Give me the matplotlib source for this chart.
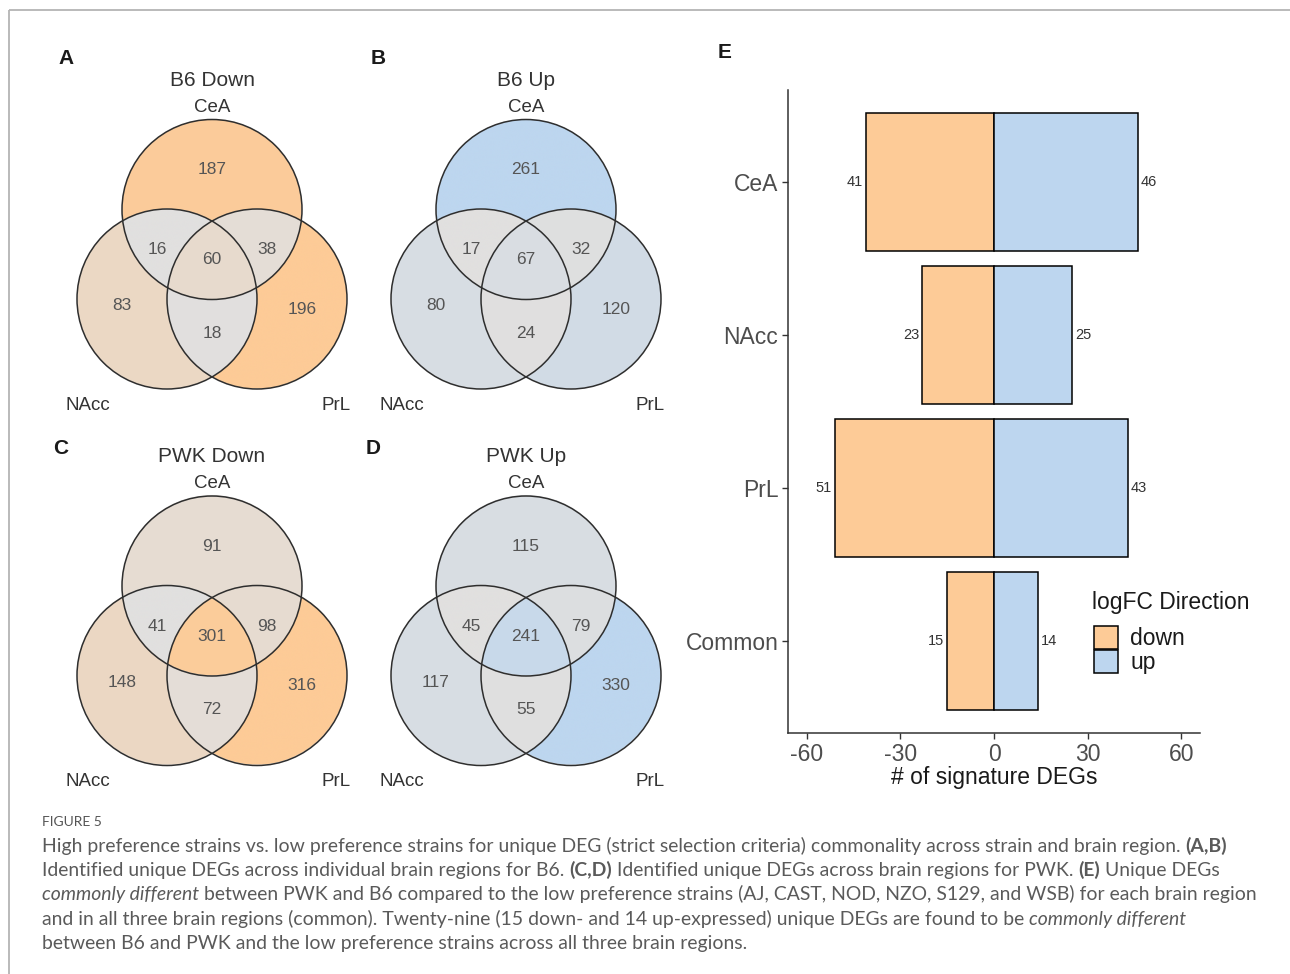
import numpy as np
import matplotlib
matplotlib.use('Agg')
import matplotlib.pyplot as plt
from matplotlib.colors import LinearSegmentedColormap, Normalize
from matplotlib.patches import Circle, Patch

# Venn region counts, order: CeA only, NAcc only, PrL only,
# CeA&NAcc, CeA&PrL, NAcc&PrL, all three
b6_down = [187, 83, 196, 16, 38, 18, 60]
b6_up = [261, 80, 120, 17, 32, 24, 67]
pwk_down = [91, 148, 316, 41, 98, 72, 301]
pwk_up = [115, 117, 330, 45, 79, 55, 241]
venn_titles = ['B6 Down', 'B6 Up', 'PWK Down', 'PWK Up']
venn_letters = ['A', 'B', 'C', 'D']
brain_regions = ['CeA', 'NAcc', 'PrL']

# signature DEG counts per region (panel E)
bar_regions = ['CeA', 'NAcc', 'PrL', 'Common']
deg_down = [41, 23, 51, 15]
deg_up = [46, 25, 43, 14]
directions = ['down', 'up']

ORANGE = '#FDCB97'
BLUE = '#BDD6EF'
LOW = '#E1E0DF'
SANS = ['Liberation Sans', 'DejaVu Sans']

plt.rcParams['font.family'] = SANS
plt.rcParams['axes.unicode_minus'] = False

fig = plt.figure(figsize=(12.9, 9.74), dpi=100)
bg = fig.add_axes([0, 0, 1, 1])
bg.set_xlim(0, 1290)
bg.set_ylim(974, 0)
bg.axis('off')

# page frame
bg.plot([9, 1290], [10, 10], color='#b4b4b4', lw=1.3, solid_capstyle='butt')
bg.plot([9, 9], [10, 974], color='#b4b4b4', lw=1.3, solid_capstyle='butt')

R = 90.0
DX, DY = 45.0, 89.5
# where each count sits relative to the CeA circle centre
num_offsets = [(0, -39.5), (-90, 96.5), (90, 99.5), (-55, 40.5),
               (55, 40.5), (0, 123.5), (0, 50.5)]
code_to_region = {1: 0, 2: 1, 4: 2, 3: 3, 5: 4, 6: 5, 7: 6}


def venn(cx, cy, counts, high, title, letter, letter_xy):
    centres = [(cx, cy), (cx - DX, cy + DY), (cx + DX, cy + DY)]
    cmap = LinearSegmentedColormap.from_list('fill', [LOW, high])
    norm = Normalize(min(counts), max(counts))

    x0, x1 = cx - DX - R - 2, cx + DX + R + 2
    y0, y1 = cy - R - 2, cy + DY + R + 2
    xs = np.linspace(x0, x1, 1100)
    ys = np.linspace(y0, y1, 1100)
    gx, gy = np.meshgrid(xs, ys)
    code = np.zeros(gx.shape, dtype=int)
    for k, (px, py) in enumerate(centres):
        code += ((gx - px) ** 2 + (gy - py) ** 2 <= R ** 2) * (1 << k)
    value = np.zeros(gx.shape)
    for c, idx in code_to_region.items():
        value[code == c] = counts[idx]
    rgba = cmap(norm(value))
    rgba[code == 0, 3] = 0
    bg.imshow(rgba, extent=(x0, x1, y1, y0), origin='upper',
              interpolation='antialiased', aspect='auto', zorder=1)

    for px, py in centres:
        bg.add_patch(Circle((px, py), R, fill=False, ec='#2e2e2e',
                            lw=1.1, zorder=3))

    for n, (ox, oy) in zip(counts, num_offsets):
        bg.text(cx + ox, cy + oy, str(n), ha='center', va='center',
                fontsize=12.5, color='#555555', zorder=4)

    bg.text(cx, cy - 129, title, ha='center', va='center',
            fontsize=15, color='#333333')
    bg.text(cx, cy - 102, brain_regions[0], ha='center', va='center',
            fontsize=13.5, color='#333333')
    bg.text(cx - 124, cy + 196, brain_regions[1], ha='center', va='center',
            fontsize=13.5, color='#333333')
    bg.text(cx + 124, cy + 196, brain_regions[2], ha='center', va='center',
            fontsize=13.5, color='#333333')
    bg.text(letter_xy[0], letter_xy[1], letter, ha='center', va='center',
            fontsize=15, fontweight='bold', color='#1a1a1a')


venn_sets = [b6_down, b6_up, pwk_down, pwk_up]
venn_high = [ORANGE, BLUE, ORANGE, BLUE]
venn_centres = [(212, 209.5), (526, 209.5), (212, 586), (526, 586)]
letter_pos = [(66, 59), (378, 59), (61, 448), (373, 448)]
for counts, high, title, letter, (cx, cy), lxy in zip(
        venn_sets, venn_high, venn_titles, venn_letters, venn_centres, letter_pos):
    venn(cx, cy, counts, high, title, letter, lxy)

# panel E: diverging horizontal bars
bg.text(725, 53, 'E', ha='center', va='center', fontsize=15,
        fontweight='bold', color='#1a1a1a')

ax = fig.add_axes([788 / 1290, 1 - 733 / 974, 412 / 1290, 643 / 974])
ax.set_facecolor('none')
ypos = np.arange(len(bar_regions))[::-1] + 1
down_bars = ax.barh(ypos, -np.array(deg_down), height=0.9, color=ORANGE,
                    edgecolor='black', linewidth=1.1, label=directions[0])
up_bars = ax.barh(ypos, deg_up, height=0.9, color=BLUE,
                  edgecolor='black', linewidth=1.1, label=directions[1])
ax.bar_label(down_bars, labels=[str(v) for v in deg_down], padding=2,
             fontsize=10.5, color='#333333')
ax.bar_label(up_bars, labels=[str(v) for v in deg_up], padding=2,
             fontsize=10.5, color='#333333')

ax.set_xlim(-66, 66)
ax.set_ylim(0.4, len(bar_regions) + 0.6)
ax.set_xticks([-60, -30, 0, 30, 60])
ax.set_yticks(ypos)
ax.set_yticklabels(bar_regions)
for side in ['top', 'right']:
    ax.spines[side].set_visible(False)
for side in ['left', 'bottom']:
    ax.spines[side].set_color('#333333')
    ax.spines[side].set_linewidth(1.1)
ax.tick_params(length=4, width=1.0, color='#333333', labelcolor='#4d4d4d',
               labelsize=16.5, pad=3)
ax.set_xlabel('# of signature DEGs', fontsize=16.5, color='#1a1a1a', labelpad=0)

# legend: title drawn on its own so the key boxes can sit flush
fig.text(1092 / 1290, 1 - 603 / 974, 'logFC Direction', ha='left', va='center',
         fontsize=16.5, color='#1a1a1a')
handles = [Patch(facecolor=ORANGE, edgecolor='black', lw=1.1, label=directions[0]),
           Patch(facecolor=BLUE, edgecolor='black', lw=1.1, label=directions[1])]
leg = ax.legend(handles=handles, loc='upper left',
                bbox_to_anchor=(1094 / 1290, 1 - 626 / 974),
                bbox_transform=fig.transFigure, frameon=False,
                fontsize=16.5, handlelength=1.03, handleheight=1.14,
                labelspacing=0.0, handletextpad=0.55,
                borderpad=0, borderaxespad=0)
for t in leg.get_texts():
    t.set_color('#1a1a1a')

# caption
CAP = ['Lato', 'DejaVu Sans']
bg.text(42, 826, 'FIGURE 5', fontsize=10, family=CAP, color='#555555',
        va='baseline')

caption = [
    [('High preference strains vs. low preference strains for unique DEG (strict '
      'selection criteria) commonality across strain and brain region.', 'n'),
     ('(A,B)', 'b')],
    [('Identified unique DEGs across individual brain regions for B6.', 'n'),
     ('(C,D)', 'b'),
     ('Identified unique DEGs across brain regions for PWK.', 'n'),
     ('(E)', 'b'), ('Unique DEGs', 'n')],
    [('commonly different', 'i'),
     ('between PWK and B6 compared to the low preference strains (AJ, CAST, '
      'NOD, NZO, S129, and WSB) for each brain region', 'n')],
    [('and in all three brain regions (common). Twenty-nine (15 down- and 14 '
      'up-expressed) unique DEGs are found to be', 'n'),
     ('commonly different', 'i')],
    [('between B6 and PWK and the low preference strains across all three '
      'brain regions.', 'n')],
]

renderer = fig.canvas.get_renderer()
cap_size = 13.95


def text_width(s, **kw):
    t = bg.text(0, 0, s, fontsize=cap_size, family=CAP, **kw)
    w = t.get_window_extent(renderer=renderer).width
    t.remove()
    return w


space_w = text_width('a a') - text_width('aa')
styles = {'n': {}, 'b': {'fontweight': 'bold'}, 'i': {'fontstyle': 'italic'}}
for i, line in enumerate(caption):
    x = 42
    y = 852 + i * 24.2
    for s, st in line:
        t = bg.text(x, y, s, fontsize=cap_size, family=CAP, color='#5a5a5a',
                    va='baseline', **styles[st])
        x += t.get_window_extent(renderer=renderer).width + space_w

fig.savefig('out.png', dpi=100)
